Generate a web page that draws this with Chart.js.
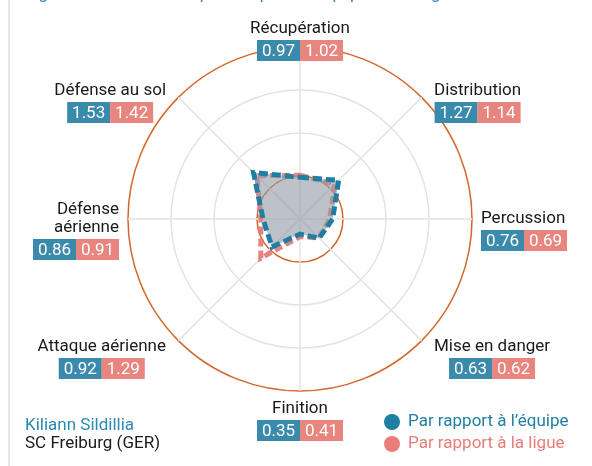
<!DOCTYPE html>
<html>
<head>
<meta charset="utf-8">
<script src="https://cdn.jsdelivr.net/npm/chart.js@4"></script>
<style>
  html, body { margin: 0; padding: 0; background: #ffffff; }
  #wrap { position: relative; width: 592px; height: 466px; }
</style>
</head>
<body>
<div id="wrap"><canvas id="c"></canvas></div>
<script>
const categories = ['Récupération', 'Distribution', 'Percussion', 'Mise en danger', 'Finition', 'Attaque aérienne', ['Défense', 'aérienne'], 'Défense au sol'];
const teamValues = [0.97, 1.27, 0.76, 0.63, 0.35, 0.92, 0.86, 1.53];
const leagueValues = [1.02, 1.14, 0.69, 0.62, 0.41, 1.29, 0.91, 1.42];
const seriesNames = ['Par rapport à l\u2019équipe', 'Par rapport à la ligue'];
const playerName = 'Kiliann Sildillia';
const clubName = 'SC Freiburg (GER)';
const titleText = 'Figure 4 : Profil statistique comparé à l\u2019équipe et à la ligue';

const BLUE = '#1f7fa3';
const BLUE_BOX = '#3a8bab';
const PINK = '#e87d79';
const PINK_BOX = '#e8857f';
const ORANGE = '#d2672a';
const GRID = '#e3e3e3';
const FONT = 'Roboto, "Noto Sans", sans-serif';

const decorPlugin = {
  id: 'decor',
  beforeDraw(chart) {
    const ctx = chart.ctx;
    ctx.save();
    ctx.strokeStyle = '#dcdcdc';
    ctx.lineWidth = 1.5;
    ctx.beginPath();
    ctx.moveTo(9, 0);
    ctx.lineTo(9, chart.height);
    ctx.stroke();
    ctx.fillStyle = '#2a8ab0';
    ctx.font = '17px ' + FONT;
    ctx.textBaseline = 'alphabetic';
    ctx.textAlign = 'left';
    ctx.fillText(titleText, 25, -1);
    ctx.restore();
  },
  afterDraw(chart) {
    const ctx = chart.ctx;
    const scale = chart.scales.r;
    const R = scale.drawingArea;
    const lh = 18;
    const boxW = 43, boxH = 21;
    ctx.save();
    categories.forEach((cat, i) => {
      const ang = scale.getIndexAngle(i);
      const s = Math.sin(ang), c = Math.cos(ang);
      const centered = Math.abs(s) <= 0.01;
      const p = scale.getPointPosition(i, R + (centered ? 18 : 9));
      let align = 'center';
      let ax = p.x;
      if (s > 0.01) { align = 'left'; if (Math.abs(c) > 0.1) ax += 6; }
      else if (s < -0.01) { align = 'right'; if (Math.abs(c) > 0.1) ax -= 6; }
      const lines = Array.isArray(cat) ? cat : [cat];
      ctx.font = '17px ' + FONT;
      let tw = 0;
      lines.forEach(l => { tw = Math.max(tw, ctx.measureText(l).width); });
      const bw = Math.max(tw, boxW * 2);
      let left;
      if (align === 'left') left = ax;
      else if (align === 'right') left = ax - bw;
      else left = ax - bw / 2;
      const firstY = p.y - (lines.length - 1) * lh / 2;
      ctx.fillStyle = '#1a1a1a';
      ctx.textBaseline = 'middle';
      ctx.textAlign = align;
      const tx = align === 'left' ? left : (align === 'right' ? left + bw : left + bw / 2);
      lines.forEach((l, k) => ctx.fillText(l, tx, firstY + k * lh));
      const boxTop = firstY + (lines.length - 1) * lh + 11;
      const bx = left + (bw - boxW * 2) / 2;
      ctx.fillStyle = BLUE_BOX;
      ctx.fillRect(bx, boxTop, boxW, boxH);
      ctx.fillStyle = PINK_BOX;
      ctx.fillRect(bx + boxW, boxTop, boxW, boxH);
      ctx.fillStyle = '#ffffff';
      ctx.textAlign = 'center';
      ctx.fillText(teamValues[i].toFixed(2), bx + boxW / 2, boxTop + boxH / 2 + 1);
      ctx.fillText(leagueValues[i].toFixed(2), bx + boxW * 1.5, boxTop + boxH / 2 + 1);
    });
    // player info
    ctx.font = '17px ' + FONT;
    ctx.textAlign = 'left';
    ctx.textBaseline = 'middle';
    ctx.fillStyle = '#2a8ab0';
    ctx.fillText(playerName, 25, 426);
    ctx.fillStyle = '#1a1a1a';
    ctx.fillText(clubName, 25, 444);
    // legend
    const legendColors = [BLUE, PINK];
    seriesNames.forEach((n, k) => {
      const y = 422 + k * 22;
      ctx.fillStyle = legendColors[k];
      ctx.beginPath();
      ctx.arc(392, y, 8, 0, Math.PI * 2);
      ctx.fill();
      ctx.fillText(n, 408, y);
    });
    ctx.restore();
  }
};

new Chart(document.getElementById('c'), {
  type: 'radar',
  data: {
    labels: categories,
    datasets: [
      {
        label: seriesNames[1],
        data: leagueValues,
        borderColor: 'rgba(232,120,116,0.92)',
        borderWidth: 5,
        borderDash: [8, 4],
        backgroundColor: 'rgba(0,0,0,0)',
        fill: false,
        pointRadius: 0,
        pointHoverRadius: 0,
        order: 2
      },
      {
        label: seriesNames[0],
        data: teamValues,
        borderColor: BLUE,
        borderWidth: 5,
        borderDash: [9, 4],
        backgroundColor: 'rgba(145,153,165,0.6)',
        fill: true,
        pointRadius: 0,
        pointHoverRadius: 0,
        order: 1
      }
    ]
  },
  options: {
    responsive: true,
    maintainAspectRatio: false,
    animation: false,
    layout: { padding: { top: 47, bottom: 75, left: 128, right: 120 } },
    plugins: { legend: { display: false }, title: { display: false }, tooltip: { enabled: false } },
    elements: { line: { tension: 0 } },
    scales: {
      r: {
        min: 0,
        max: 4,
        ticks: { display: false, stepSize: 1 },
        pointLabels: { display: false },
        grid: {
          circular: true,
          color: ctx => (ctx.tick && (ctx.tick.value === 1 || ctx.tick.value === 4)) ? ORANGE : GRID,
          lineWidth: 1.5
        },
        angleLines: { color: GRID, lineWidth: 1.5 }
      }
    }
  },
  plugins: [decorPlugin]
});
</script>
</body>
</html>
